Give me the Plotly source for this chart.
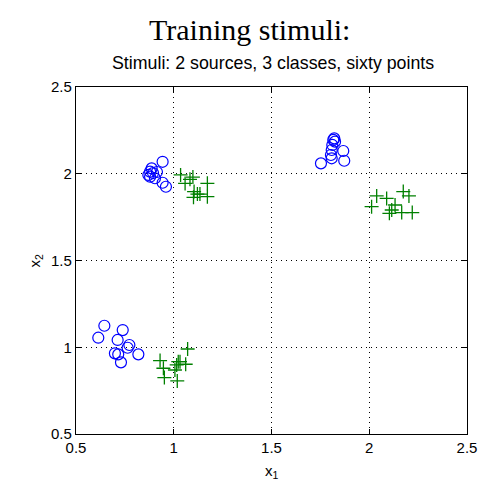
import plotly.graph_objects as go

# Class A (blue circles)
blue_x = [0.943, 0.887, 0.879, 0.870, 0.894, 0.879, 0.904, 0.943, 0.960, 0.914,
          1.821, 1.816, 1.825, 1.811, 1.808, 1.804, 1.867, 1.872, 1.808, 1.753,
          0.645, 0.614, 0.739, 0.713, 0.773, 0.764, 0.699, 0.716, 0.819, 0.730]
blue_y = [2.069, 2.031, 2.012, 1.993, 2.004, 1.983, 1.974, 1.948, 1.925, 2.010,
          2.204, 2.195, 2.185, 2.166, 2.137, 2.108, 2.131, 2.075, 2.089, 2.060,
          1.124, 1.055, 1.099, 1.042, 1.013, 0.997, 0.965, 0.959, 0.959, 0.913]
# Class B (green crosses)
green_x = [1.035, 1.058, 1.083, 1.098, 1.172, 1.104, 1.121, 1.101, 1.134, 1.172,
           2.038, 2.089, 2.174, 2.203, 2.012, 2.132, 2.115, 2.103, 2.166, 2.220,
           1.071, 0.930, 0.947, 1.023, 1.015, 1.061, 1.006, 0.952, 1.018, 1.032]
green_y = [1.993, 1.944, 1.968, 1.981, 1.945, 1.897, 1.883, 1.864, 1.883, 1.868,
           1.872, 1.858, 1.897, 1.872, 1.810, 1.820, 1.791, 1.772, 1.776, 1.776,
           0.990, 0.923, 0.879, 0.917, 0.898, 0.902, 0.869, 0.825, 0.806, 0.917]

ticks = [0.5, 1, 1.5, 2, 2.5]
tick_text = ["0.5", "1", "1.5", "2", "2.5"]

fig = go.Figure()
fig.add_trace(go.Scatter(x=blue_x, y=blue_y, mode="markers",
                         marker=dict(symbol="circle-open", size=11, color="#0000ff",
                                     line=dict(width=1.2, color="#0000ff")),
                         showlegend=False))
fig.add_trace(go.Scatter(x=green_x, y=green_y, mode="markers",
                         marker=dict(symbol="cross-thin-open", size=10, color="#008000",
                                     line=dict(width=1.3, color="#008000")),
                         showlegend=False))

axis_common = dict(
    tickvals=ticks, ticktext=tick_text, ticks="inside", ticklen=5,
    tickcolor="black", showline=True, linecolor="black", linewidth=1.2,
    mirror="ticks", showgrid=True, gridcolor="black", griddash="1px,4px",
    gridwidth=1, zeroline=False, automargin=False,
    tickfont=dict(family="Liberation Sans, Arial", size=15, color="black"),
)
fig.update_xaxes(range=[0.5, 2.5], **axis_common)
fig.update_yaxes(range=[0.5, 2.5], **axis_common)

fig.add_annotation(text="Training stimuli:", xref="paper", yref="paper", x=0.445, y=1.0,
                   yshift=58, showarrow=False, yanchor="middle",
                   font=dict(family="Liberation Serif, Times New Roman", size=30, color="black"))
fig.add_annotation(text="Stimuli: 2 sources, 3 classes, sixty points", xref="paper",
                   yref="paper", x=0.504, y=1.0, yshift=24, showarrow=False, yanchor="middle",
                   font=dict(family="Liberation Sans, Arial", size=17.8, color="black"))
fig.add_annotation(text="x<sub>1</sub>", xref="paper", yref="paper", x=0.5, y=0.0,
                   yshift=-37, showarrow=False, yanchor="middle",
                   font=dict(family="Liberation Sans, Arial", size=15, color="black"))
fig.add_annotation(text="x<sub>2</sub>", xref="paper", yref="paper", x=0.0, y=0.5,
                   xshift=-41, showarrow=False, xanchor="center", textangle=-90,
                   font=dict(family="Liberation Sans, Arial", size=15, color="black"))

fig.update_layout(width=479, height=476, margin=dict(l=68, r=20, t=79, b=50),
                  plot_bgcolor="white", paper_bgcolor="white")
fig.write_html("out.html")
